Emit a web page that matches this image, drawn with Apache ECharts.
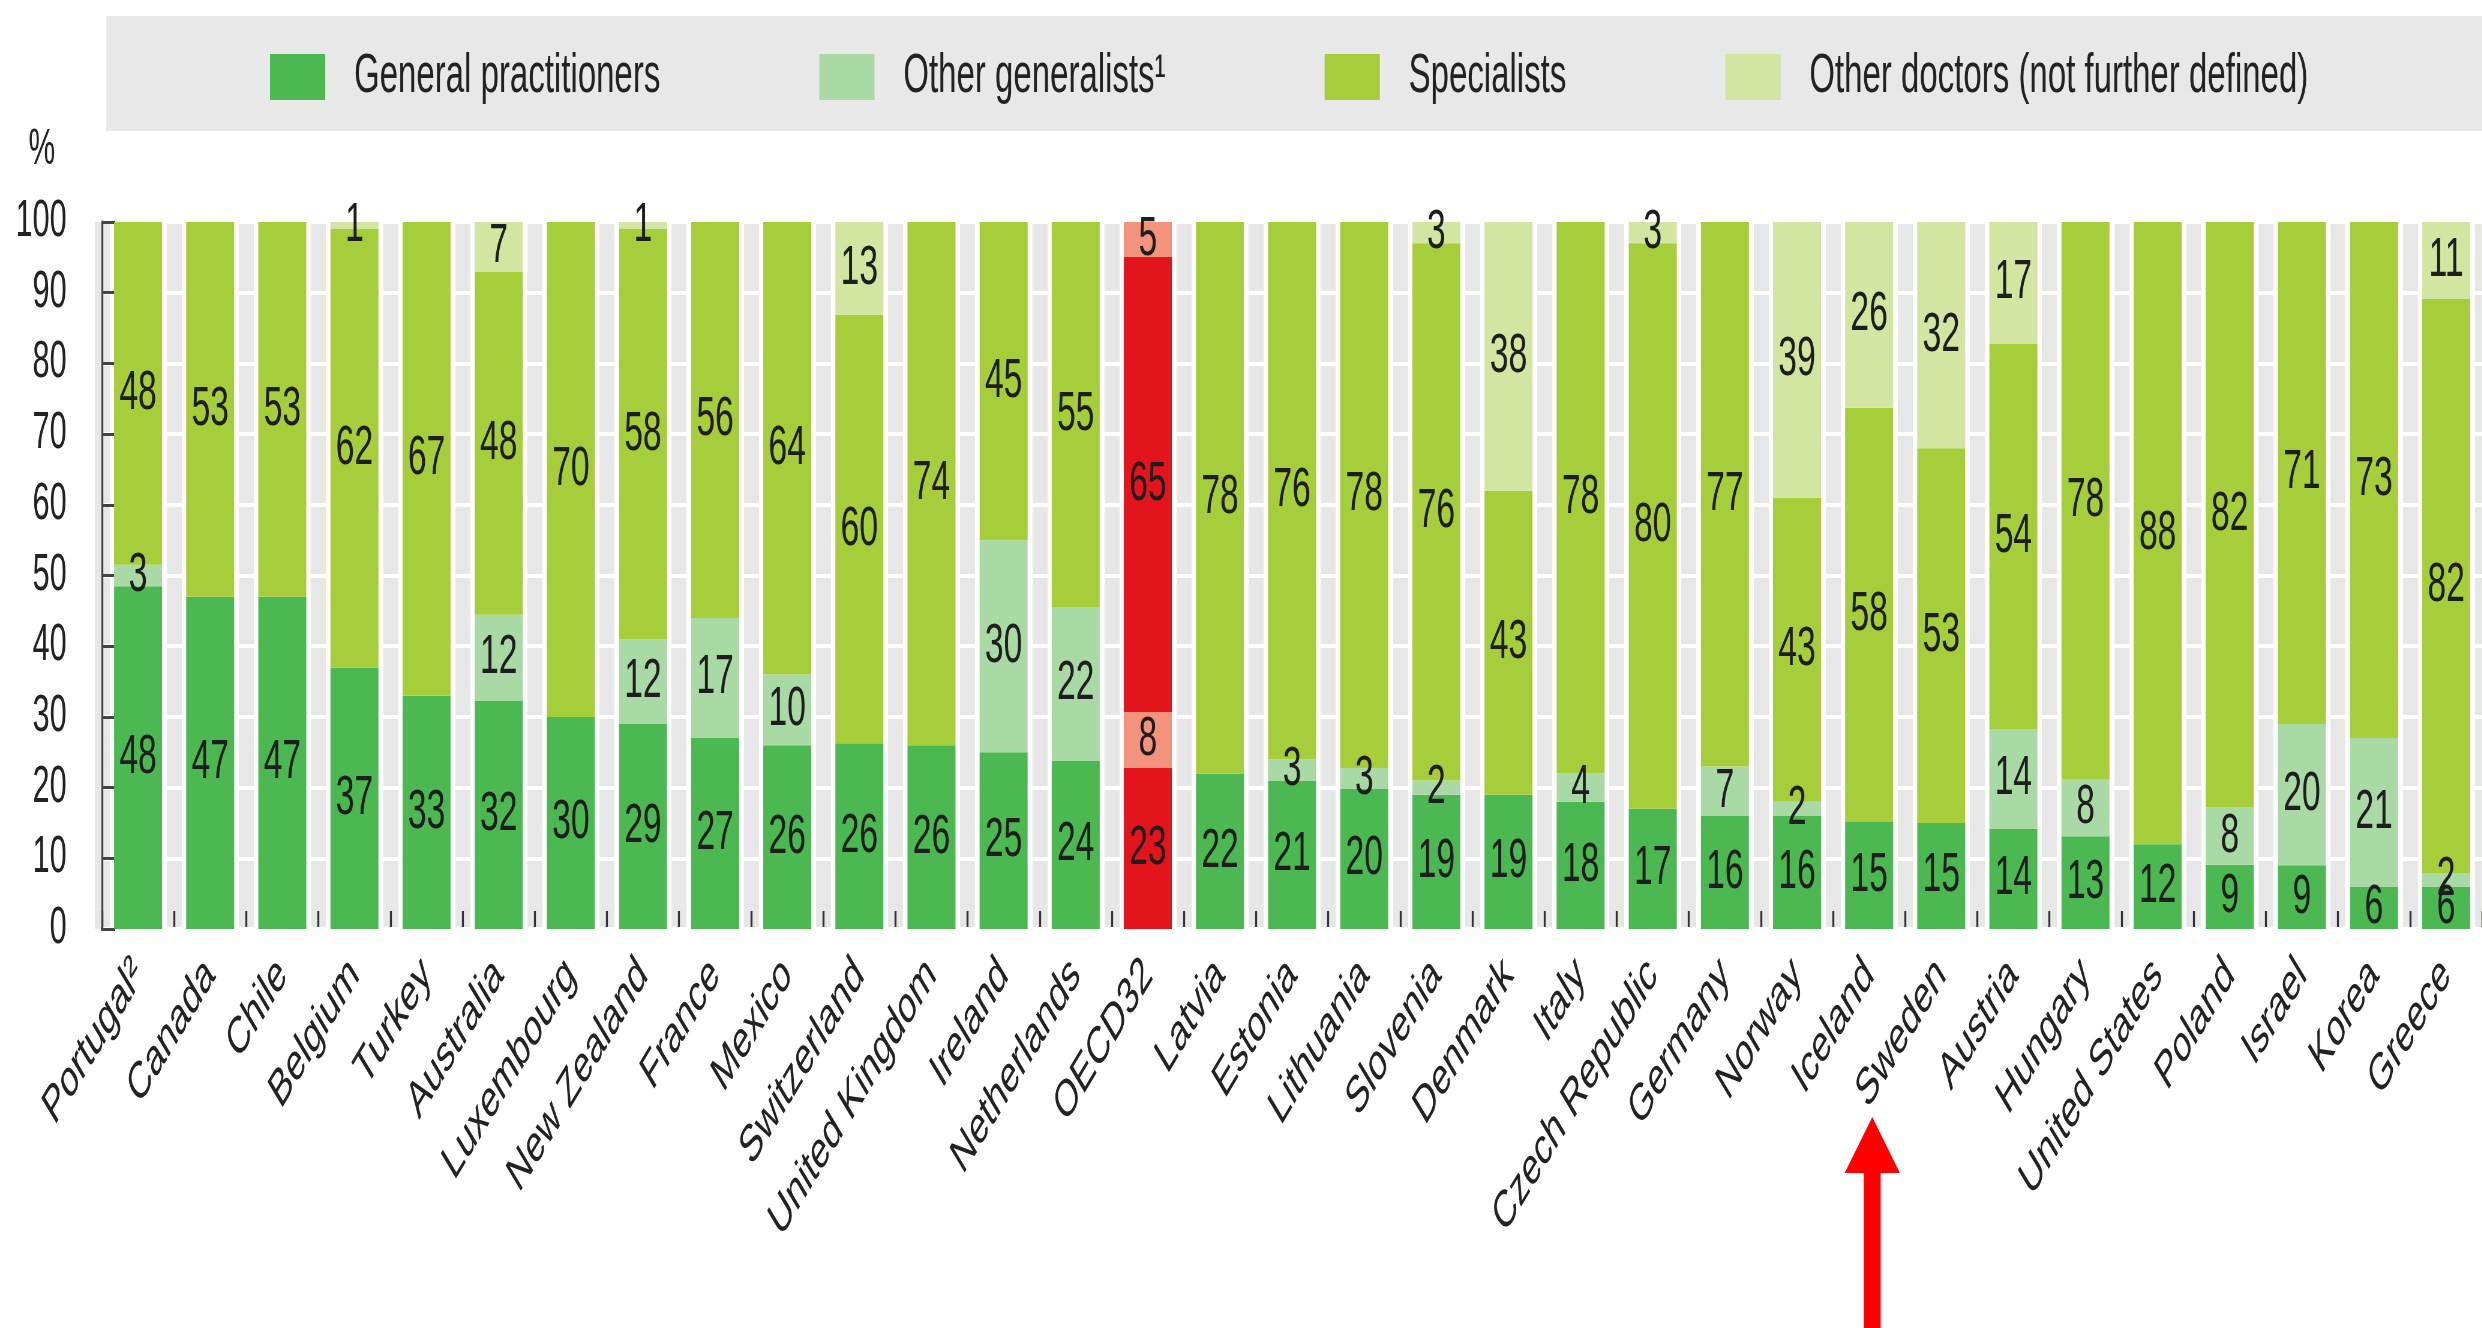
<!DOCTYPE html>
<html><head><meta charset="utf-8">
<script src="https://cdn.jsdelivr.net/npm/echarts@6/dist/echarts.min.js"></script>
<style>
html,body{margin:0;padding:0;overflow:hidden;background:#fff;width:2482px;height:1328px}
#wrap{width:4137px;height:1328px;transform:scaleX(0.6);transform-origin:0 0;}
</style></head><body><div id="wrap"></div>
<script>
const countries = ['Portugal²','Canada','Chile','Belgium','Turkey','Australia','Luxembourg','New Zealand','France','Mexico','Switzerland','United Kingdom','Ireland','Netherlands','OECD32','Latvia','Estonia','Lithuania','Slovenia','Denmark','Italy','Czech Republic','Germany','Norway','Iceland','Sweden','Austria','Hungary','United States','Poland','Israel','Korea','Greece'];
const generalPractitioners = [48,47,47,37,33,32,30,29,27,26,26,26,25,24,23,22,21,20,19,19,18,17,16,16,15,15,14,13,12,9,9,6,6];
const otherGeneralists    = [3,0,0,0,0,12,0,12,17,10,0,0,30,22,8,0,3,3,2,0,4,0,7,2,0,0,14,8,0,8,20,21,2];
const specialists         = [48,53,53,62,67,48,70,58,56,64,60,74,45,55,65,78,76,78,76,43,78,80,77,43,58,53,54,78,88,82,71,73,82];
const otherDoctors        = [0,0,0,1,0,7,0,1,0,0,13,0,0,0,5,0,0,0,3,38,0,3,0,39,26,32,17,0,0,0,0,0,11];
const seriesNames = ['General practitioners','Other generalists¹','Specialists','Other doctors (not further defined)'];
const seriesColors = ['#4cb852','#a9d9a4','#a6cd3a','#d2e6a2'];
const highlightColors = ['#e3151c','#f4937d','#e3151c','#f4937d'];
const highlightCountry = 'OECD32';
const yMin = 0, yMax = 100, yStep = 10;

const FONT = "'Liberation Sans', Arial, Helvetica, sans-serif";
const hi = countries.indexOf(highlightCountry);
const allValues = [generalPractitioners, otherGeneralists, specialists, otherDoctors];
// shares of each country's total (rounded labels do not always add to 100)
const totals = countries.map((c, i) => allValues.reduce((a, arr) => a + arr[i], 0));

const chart = echarts.init(document.getElementById('wrap'));
const series = allValues.map((vals, s) => ({
  name: seriesNames[s],
  type: 'bar',
  stack: 'total',
  barWidth: 80,
  itemStyle: { color: seriesColors[s] },
  label: {
    show: true, position: 'inside', fontSize: 56, fontFamily: FONT, color: '#1e1e1e',
    formatter: p => (vals[p.dataIndex] ? String(vals[p.dataIndex]) : '')
  },
  data: vals.map((v, i) => {
    const share = v * 100 / totals[i];
    return i === hi ? { value: share, itemStyle: { color: highlightColors[s] } } : share;
  })
}));

const legendBox = {
  type: 'rect', z: -10, silent: true,
  shape: { x: 177, y: 16, width: 4000, height: 115 },
  style: { fill: '#e8e8e8' }
};

chart.setOption({
  animation: false,
  textStyle: { fontFamily: FONT },
  legend: {
    left: 445, top: 44, itemWidth: 92, itemHeight: 46, itemGap: 265, icon: 'rect',
    textStyle: { fontSize: 55, color: '#222', fontFamily: FONT, padding: [0, 0, 0, 43], lineHeight: 56 },
    data: seriesNames
  },
  grid: { left: 170, top: 222, height: 707, width: 3993, containLabel: false },
  xAxis: {
    type: 'category', data: countries, z: 0,
    axisLine: { lineStyle: { color: '#333', width: 4 } },
    axisTick: { show: true, inside: true, length: 18, lineStyle: { color: '#333', width: 3.3 } },
    splitLine: { show: true, lineStyle: { color: '#e7e7e7', width: 25 } },
    axisLabel: { rotate: 45, fontSize: 52, color: '#222', margin: 38, fontFamily: FONT, interval: 0 }
  },
  yAxis: {
    type: 'value', min: yMin, max: yMax, interval: yStep, z: 1,
    name: '%', nameLocation: 'end', nameGap: 72,
    nameTextStyle: { fontSize: 50, color: '#222', align: 'right', verticalAlign: 'middle', padding: [0, 78, 0, 0], fontFamily: FONT },
    axisLine: { show: true, lineStyle: { color: '#444', width: 3.3 } },
    axisTick: { show: true, inside: true, length: 22, lineStyle: { color: '#444', width: 3 } },
    splitLine: { show: true, lineStyle: { color: '#ffffff', width: 4 } },
    axisLabel: { fontSize: 51, color: '#222', margin: 59, fontFamily: FONT }
  },
  graphic: [legendBox],
  series: series
});

// annotation arrow pointing at the Sweden label
const swX = chart.convertToPixel({ xAxisIndex: 0 }, 'Sweden');
const tx = swX - 115;
chart.setOption({
  graphic: [legendBox, {
    type: 'polygon', z: 100, silent: true,
    shape: { points: [[tx, 1117], [tx + 46, 1173], [tx + 14, 1173], [tx + 14, 1340], [tx - 14, 1340], [tx - 14, 1173], [tx - 46, 1173]] },
    style: { fill: '#ff0000' }
  }]
});
</script></body></html>
